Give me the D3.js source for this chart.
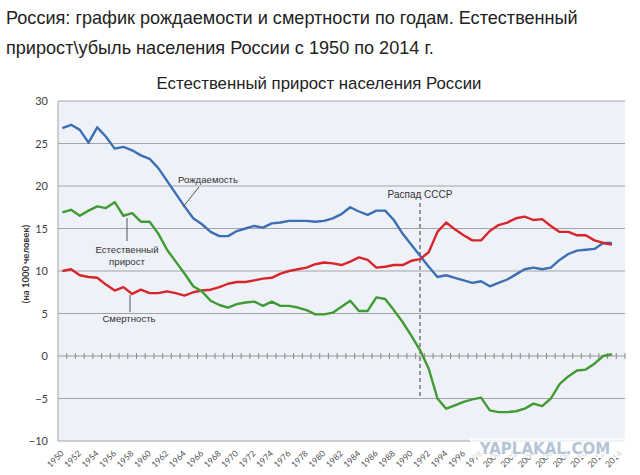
<!DOCTYPE html>
<html>
<head>
<meta charset="utf-8">
<script src="https://cdn.jsdelivr.net/npm/d3@7"></script>
<style>
  body { margin: 0; background: #fff; }
  svg { display: block; }
</style>
</head>
<body>
<div id="chart"></div>
<script>
// categories on the x axis (band per year, 1950 - 2014)
var years = d3.range(1950, 2015);
var tickYears = d3.range(1950, 2015, 2);
var yTicks = [-10, -5, 0, 5, 10, 15, 20, 25, 30];

// values, per 1000 people, 1950 - 2013
var births = [26.8, 27.2, 26.6, 25.1, 26.9, 25.8, 24.4, 24.6, 24.2, 23.6, 23.2, 22.1, 20.6, 19.1, 17.6, 16.2, 15.5, 14.6, 14.1, 14.1, 14.7,
  15.0, 15.3, 15.1, 15.6, 15.7, 15.9, 15.9, 15.9, 15.8, 15.9, 16.2, 16.7, 17.5, 17.0, 16.6, 17.1, 17.1, 16.0, 14.4, 13.1, 11.8, 10.5, 9.3,
  9.5, 9.2, 8.9, 8.6, 8.8, 8.2, 8.6, 9.0, 9.6, 10.2, 10.4, 10.2, 10.4, 11.3, 12.0, 12.4, 12.5, 12.6, 13.3, 13.3];
var deaths = [10.0, 10.2, 9.5, 9.3, 9.2, 8.4, 7.7, 8.1, 7.3, 7.8, 7.4, 7.4, 7.6, 7.4, 7.1, 7.5, 7.7, 7.8, 8.1, 8.5, 8.7,
  8.7, 8.9, 9.1, 9.2, 9.7, 10.0, 10.2, 10.4, 10.8, 11.0, 10.9, 10.7, 11.1, 11.6, 11.3, 10.4, 10.5, 10.7, 10.7, 11.2, 11.4, 12.2, 14.6,
  15.7, 14.9, 14.2, 13.6, 13.6, 14.7, 15.4, 15.7, 16.2, 16.4, 16.0, 16.1, 15.3, 14.6, 14.6, 14.2, 14.2, 13.6, 13.3, 13.1];
var growth = [16.9, 17.2, 16.5, 17.1, 17.6, 17.4, 18.1, 16.5, 16.8, 15.8, 15.8, 14.4, 12.5, 11.1, 9.7, 8.2, 7.6, 6.5, 6.0, 5.7, 6.1,
  6.3, 6.4, 5.9, 6.4, 5.9, 5.9, 5.7, 5.4, 4.9, 4.9, 5.1, 5.8, 6.5, 5.3, 5.3, 6.9, 6.7, 5.4, 4.0, 2.4, 0.7, -1.5, -5.0,
  -6.2, -5.8, -5.4, -5.1, -4.9, -6.4, -6.6, -6.6, -6.5, -6.2, -5.6, -5.9, -5.0, -3.3, -2.4, -1.7, -1.6, -0.9, 0.0, 0.2];

var collapseYear = 1991;

var svgWidth = 640, svgHeight = 475;
var margin = { top: 101, right: 15, bottom: 34, left: 58 };
var width = svgWidth - margin.left - margin.right;
var height = svgHeight - margin.top - margin.bottom;

var svg = d3.select("#chart").append("svg")
  .attr("width", svgWidth)
  .attr("height", svgHeight)
  .style("font-family", "'Liberation Sans', Arial, sans-serif");

// page heading above the chart
svg.append("text")
  .attr("x", 6).attr("y", 24)
  .attr("font-size", 18.1).attr("fill", "#222")
  .text("Россия: график рождаемости и смертности по годам. Естественный");
svg.append("text")
  .attr("x", 6).attr("y", 54)
  .attr("font-size", 18.1).attr("fill", "#222")
  .text("прирост\\убыль населения России с 1950 по 2014 г.");

svg.append("text")
  .attr("x", 319).attr("y", 89)
  .attr("text-anchor", "middle")
  .attr("font-size", 16.8).attr("fill", "#222")
  .text("Естественный прирост населения России");

var chartGroup = svg.append("g")
  .attr("transform", `translate(${margin.left}, ${margin.top})`);

var xScale = d3.scaleBand().domain(years).range([0, width]);
var yScale = d3.scaleLinear().domain([-10, 30]).range([height, 0]);
var xc = d => xScale(d) + xScale.bandwidth() / 2;

// plot background
chartGroup.append("rect")
  .attr("width", width).attr("height", height)
  .attr("fill", "#eef1f7");

// gridlines
chartGroup.selectAll("line.grid")
  .data(yTicks.filter(v => v !== 0))
  .enter().append("line")
  .attr("class", "grid")
  .attr("x1", 0).attr("x2", width)
  .attr("y1", d => yScale(d)).attr("y2", d => yScale(d))
  .attr("stroke", "#a4a4a4").attr("stroke-width", 1);

chartGroup.append("line")
  .attr("x1", 0).attr("x2", 0)
  .attr("y1", 0).attr("y2", height)
  .attr("stroke", "#a4a4a4");

// zero line with the year ticks
var zeroAxis = chartGroup.append("g")
  .attr("transform", `translate(0, ${yScale(0)})`);
zeroAxis.append("line")
  .attr("x1", 0).attr("x2", width)
  .attr("stroke", "#9a9a9a");
zeroAxis.selectAll("line.tick")
  .data(years.slice(1).concat([2015]))
  .enter().append("line")
  .attr("class", "tick")
  .attr("x1", d => d === 2015 ? width : xScale(d))
  .attr("x2", d => d === 2015 ? width : xScale(d))
  .attr("y1", -3).attr("y2", 3)
  .attr("stroke", "#8a8a8a");

// y axis labels
var yAxis = chartGroup.append("g")
  .call(d3.axisLeft(yScale).tickValues(yTicks).tickSize(0).tickPadding(10));
yAxis.select(".domain").remove();
yAxis.selectAll("text")
  .attr("font-family", "Lato, 'Open Sans', sans-serif")
  .attr("font-size", 11).attr("fill", "#404040");

// x axis labels, rotated
var xAxis = chartGroup.append("g")
  .attr("transform", `translate(0, ${height})`)
  .call(d3.axisBottom(xScale).tickValues(tickYears.filter(d => d !== 2014)).tickSize(0));
xAxis.select(".domain").remove();
xAxis.selectAll("text")
  .attr("x", 0).attr("y", 0).attr("dy", 0)
  .attr("transform", "translate(2,13) rotate(-45)")
  .attr("text-anchor", "end")
  .attr("font-family", "Lato, 'Open Sans', sans-serif")
  .attr("font-size", 8.5).attr("fill", "#505050");
// 2014 has no data point but is labelled at the right edge
chartGroup.append("text")
  .attr("transform", `translate(${xc(2014) + 2}, ${height + 13}) rotate(-45)`)
  .attr("text-anchor", "end")
  .attr("font-family", "Lato, 'Open Sans', sans-serif")
  .attr("font-size", 8.5).attr("fill", "#505050")
  .text("2014");

// y axis title
svg.append("text")
  .attr("transform", "translate(29, 264) rotate(-90)")
  .attr("text-anchor", "middle")
  .attr("font-family", "Lato, 'Open Sans', sans-serif")
  .attr("font-weight", "bold")
  .attr("font-size", 9.5).attr("fill", "#333")
  .text("(на 1000 человек)");

// collapse of the USSR marker
chartGroup.append("line")
  .attr("x1", xc(collapseYear)).attr("x2", xc(collapseYear))
  .attr("y1", 102).attr("y2", 296)
  .attr("stroke", "#555").attr("stroke-width", 1.2)
  .attr("stroke-dasharray", "4,3");
chartGroup.append("text")
  .attr("x", xc(collapseYear)).attr("y", 97)
  .attr("text-anchor", "middle")
  .attr("font-size", 10).attr("fill", "#333")
  .text("Распад СССР");

// series lines
var series = [
  { values: births, color: "#3c6fb4" },
  { values: deaths, color: "#d7262b" },
  { values: growth, color: "#3f9b33" }
];
var line = d3.line()
  .x((d, i) => xc(years[i]))
  .y(d => yScale(d));

chartGroup.selectAll("path.series")
  .data(series)
  .enter().append("path")
  .attr("class", "series")
  .attr("d", d => line(d.values))
  .attr("fill", "none")
  .attr("stroke", d => d.color)
  .attr("stroke-width", 2.4)
  .attr("stroke-linejoin", "round");

// annotations with leader lines
var notes = [
  { lines: ["Рождаемость"], x: 120, y: 82, anchor: "start", lx1: 141, ly1: 86, lx2: 125, ly2: 106 },
  { lines: ["Естественный", "прирост"], x: 69, y: 152, anchor: "middle", lx1: 69, ly1: 117, lx2: 69, ly2: 140 },
  { lines: ["Смертность"], x: 71, y: 221, anchor: "middle", lx1: 72, ly1: 194, lx2: 72, ly2: 211 }
];
notes.forEach(function(n) {
  chartGroup.append("line")
    .attr("x1", n.lx1).attr("y1", n.ly1)
    .attr("x2", n.lx2).attr("y2", n.ly2)
    .attr("stroke", "#555").attr("stroke-width", 1);
  n.lines.forEach(function(t, i) {
    chartGroup.append("text")
      .attr("x", n.x).attr("y", n.y + i * 11.5)
      .attr("text-anchor", n.anchor)
      .attr("font-size", 9.6).attr("fill", "#333")
      .text(t);
  });
});

// watermark
svg.append("rect")
  .attr("x", 470).attr("y", 438).attr("width", 160).attr("height", 20)
  .attr("fill", "#fff").attr("opacity", 0.75);
svg.append("text")
  .attr("x", 545).attr("y", 454)
  .attr("text-anchor", "middle")
  .attr("font-family", "'DejaVu Sans', sans-serif")
  .attr("font-weight", "bold")
  .attr("font-size", 15).attr("fill", "#b4c4d6")
  .text("YAPLAKAL.COM");
</script>
</body>
</html>
